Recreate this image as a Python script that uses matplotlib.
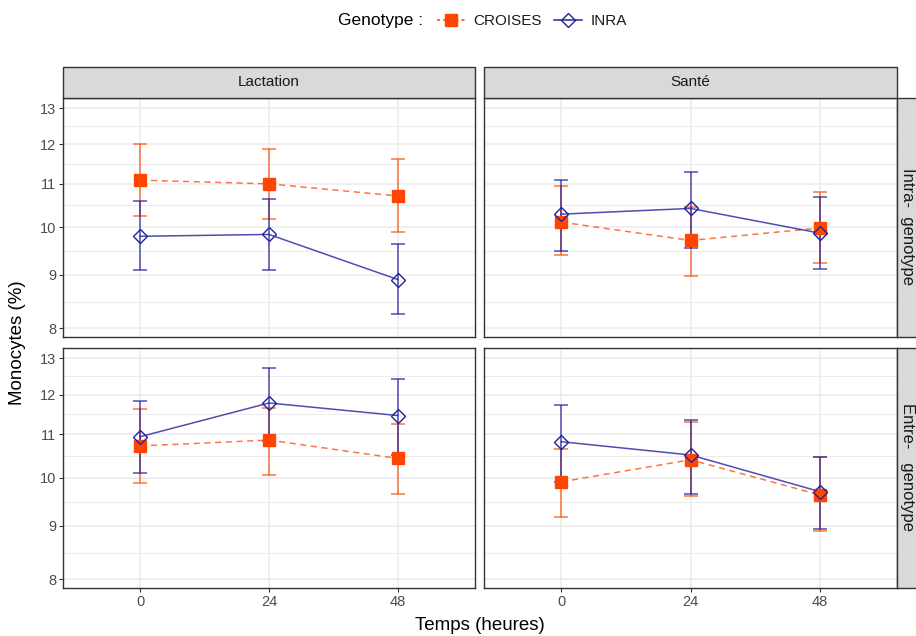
import matplotlib
matplotlib.use("Agg")
import matplotlib.pyplot as plt
from matplotlib.patches import Rectangle
from matplotlib.lines import Line2D
from matplotlib.ticker import NullFormatter
import numpy as np

plt.rcParams['font.family'] = ['Liberation Sans', 'DejaVu Sans']

# ---------------- data ----------------
times = ["0", "24", "48"]
col_labels = ["Lactation", "Santé"]
row_labels = ["Intra-  genotype", "Entre-   genotype"]
genotypes = ["CROISES", "INRA"]
y_ticks = [8, 9, 10, 11, 12, 13]

# Lactation / Intra
croises_lact_intra = [11.09, 11.00, 10.71]
croises_lact_intra_lo = [10.24, 10.17, 9.89]
croises_lact_intra_hi = [12.00, 11.87, 11.61]
inra_lact_intra = [9.80, 9.84, 8.91]
inra_lact_intra_lo = [9.10, 9.10, 8.26]
inra_lact_intra_hi = [10.60, 10.63, 9.64]

# Santé / Intra
croises_sante_intra = [10.11, 9.71, 9.98]
croises_sante_intra_lo = [9.41, 8.97, 9.25]
croises_sante_intra_hi = [10.95, 10.45, 10.80]
inra_sante_intra = [10.29, 10.42, 9.87]
inra_sante_intra_lo = [9.49, 9.56, 9.12]
inra_sante_intra_hi = [11.09, 11.28, 10.68]

# Lactation / Entre
croises_lact_entre = [10.72, 10.86, 10.43]
croises_lact_entre_lo = [9.88, 10.06, 9.65]
croises_lact_entre_hi = [11.62, 11.66, 11.25]
inra_lact_entre = [10.94, 11.78, 11.46]
inra_lact_entre_lo = [10.10, 10.84, 10.50]
inra_lact_entre_hi = [11.84, 12.72, 12.42]

# Santé / Entre
croises_sante_entre = [9.91, 10.40, 9.63]
croises_sante_entre_lo = [9.17, 9.61, 8.90]
croises_sante_entre_hi = [10.65, 11.31, 10.47]
inra_sante_entre = [10.82, 10.51, 9.70]
inra_sante_entre_lo = [9.91, 9.65, 8.93]
inra_sante_entre_hi = [11.73, 11.35, 10.47]

facets = {
    (0, 0): [(croises_lact_intra, croises_lact_intra_lo, croises_lact_intra_hi),
             (inra_lact_intra, inra_lact_intra_lo, inra_lact_intra_hi)],
    (0, 1): [(croises_sante_intra, croises_sante_intra_lo, croises_sante_intra_hi),
             (inra_sante_intra, inra_sante_intra_lo, inra_sante_intra_hi)],
    (1, 0): [(croises_lact_entre, croises_lact_entre_lo, croises_lact_entre_hi),
             (inra_lact_entre, inra_lact_entre_lo, inra_lact_entre_hi)],
    (1, 1): [(croises_sante_entre, croises_sante_entre_lo, croises_sante_entre_hi),
             (inra_sante_entre, inra_sante_entre_lo, inra_sante_entre_hi)],
}

# ---------------- style ----------------
ORANGE = "#FF4500"
BLUE = "#22229E"
GRID = "#EBEBEB"
DARK = "#333333"
TXT = "#4D4D4D"

styles = [
    dict(color=ORANGE, ls=(0, (4, 3)), marker="s", ms=8.5, mfc=ORANGE, mec=ORANGE, alpha_line=0.75, alpha_err=0.75),
    dict(color=BLUE, ls="-", marker="D", ms=7.5, mfc="none", mec=BLUE, alpha_line=0.8, alpha_err=0.8),
]

W, H = 916, 636
fig = plt.figure(figsize=(W / 100, H / 100), dpi=100)


def fx(px):
    return px / W


def fy(py):
    return 1 - py / H


col_x = [(63, 475), (484, 897)]
row_y = [(98, 337), (348, 588)]
strip_top = 67
strip_right = (897, 931)
row_text_y = [226, 467]

x = np.arange(len(times))
minor_y = [np.sqrt(a * b) for a, b in zip(y_ticks[:-1], y_ticks[1:])]

for (r, c), series in facets.items():
    x0, x1 = col_x[c]
    y0, y1 = row_y[r]
    ax = fig.add_axes([fx(x0), fy(y1), (x1 - x0) / W, (y1 - y0) / H])
    ax.set_yscale("log")
    ax.set_xlim(-0.6, len(times) - 1 + 0.6)
    ax.set_ylim(7.85, 13.29)
    ax.set_yticks(y_ticks)
    ax.set_yticks(minor_y, minor=True)
    ax.yaxis.set_minor_formatter(NullFormatter())
    ax.set_yticklabels([str(v) for v in y_ticks])
    ax.set_xticks(x)
    ax.set_xticklabels(times)
    ax.grid(which="major", color=GRID, lw=1.1)
    ax.grid(which="minor", axis="y", color=GRID, lw=0.7)
    ax.set_axisbelow(True)
    for sp in ax.spines.values():
        sp.set_color(DARK)
        sp.set_linewidth(1.0)
    ax.tick_params(which="minor", length=0)
    ax.tick_params(which="major", length=3, width=0.8, color=DARK,
                   labelcolor=TXT, labelsize=10.5, pad=2)
    if c == 1:
        ax.tick_params(axis="y", length=0, labelleft=False)
    if r == 0:
        ax.tick_params(axis="x", length=0, labelbottom=False)

    for (mean, lo, hi), st in zip(series, styles):
        mean = np.array(mean)
        err = [mean - np.array(lo), np.array(hi) - mean]
        ax.errorbar(x, mean, yerr=err, fmt="none", ecolor=st["color"],
                    elinewidth=1.1, capsize=4.7, capthick=1.1,
                    alpha=st["alpha_err"], zorder=2)
        ax.plot(x, mean, color=st["color"], ls=st["ls"], lw=1.1,
                alpha=st["alpha_line"], zorder=3)
        ax.plot(x, mean, ls="none", marker=st["marker"], ms=st["ms"],
                mfc=st["mfc"], mec=st["mec"], mew=1.0, zorder=4)

# top strips
for c, lab in enumerate(col_labels):
    x0, x1 = col_x[c]
    fig.add_artist(Rectangle((fx(x0), fy(row_y[0][0])), (x1 - x0) / W,
                             (row_y[0][0] - strip_top) / H, transform=fig.transFigure,
                             facecolor="#D9D9D9", edgecolor=DARK, lw=1.0))
    fig.text(fx((x0 + x1) / 2), fy((strip_top + row_y[0][0]) / 2), lab,
             ha="center", va="center", fontsize=11, color="#1A1A1A")

# right strips
for r, lab in enumerate(row_labels):
    y0, y1 = row_y[r]
    sx0, sx1 = strip_right
    fig.add_artist(Rectangle((fx(sx0), fy(y1)), (sx1 - sx0) / W, (y1 - y0) / H,
                             transform=fig.transFigure, facecolor="#D9D9D9",
                             edgecolor=DARK, lw=1.0))
    fig.text(fx(908), fy(row_text_y[r]), lab, ha="center", va="center",
             rotation=270, fontsize=12, color="#1A1A1A")

# axis titles
fig.text(fx(18), fy((row_y[0][0] + row_y[1][1]) / 2), "Monocytes (%)",
         rotation=90, ha="center", va="center", fontsize=13.5, color="#000000")
fig.text(fx(480), fy(625), "Temps (heures)", ha="center", va="center",
         fontsize=13.5, color="#000000")

# legend
fig.text(fx(338), fy(21), "Genotype :", ha="left", va="center", fontsize=12.5)
handles = [
    Line2D([], [], color=ORANGE, ls=(0, (2, 2)), lw=1.1, marker="s", ms=8.5,
           mfc=ORANGE, mec=ORANGE),
    Line2D([], [], color=BLUE, ls="-", lw=1.1, marker="D", ms=7.5,
           mfc="none", mec=BLUE),
]
fig.legend(handles, genotypes, ncol=2, loc="center left",
           bbox_to_anchor=(fx(437), fy(21)), frameon=False, fontsize=11,
           handlelength=1.8, handletextpad=0.6, columnspacing=0.8,
           borderaxespad=0, borderpad=0, labelcolor="#1A1A1A")

fig.savefig("out.png", dpi=100)
